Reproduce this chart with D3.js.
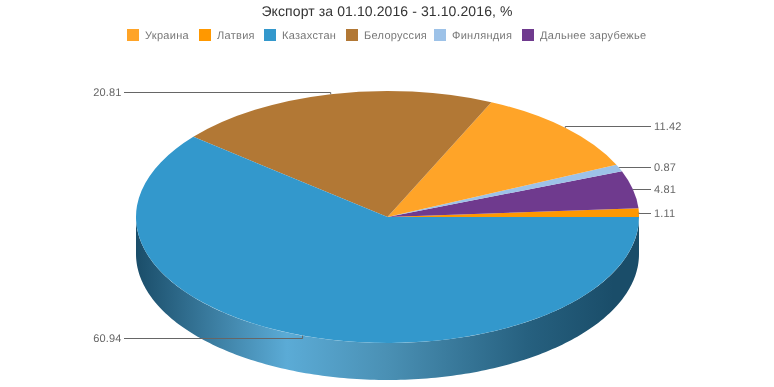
<!DOCTYPE html>
<html>
<head>
<meta charset="utf-8">
<script src="https://cdnjs.cloudflare.com/ajax/libs/d3/7.8.5/d3.min.js"></script>
<style>
	body { margin: 0; background: #fff; }
	/* own layer so text gets greyscale antialiasing */
	svg { display: block; will-change: transform; font-family: "Liberation Sans", Arial, sans-serif; text-rendering: geometricPrecision; }
	.title { font-size: 14px; fill: #333; letter-spacing: 0.1px; }
	.label { font-size: 11px; fill: #666; letter-spacing: 0.15px; }
	.legend-text { font-size: 11px; fill: #777; letter-spacing: 0.3px; }
	.leader { fill: none; stroke: #666; stroke-width: 1; }
</style>
</head>
<body>
<div id="graphic"></div>
<script>
// legend order
const categories = ['Украина', 'Латвия', 'Казахстан', 'Белоруссия', 'Финляндия', 'Дальнее зарубежье'];
const values = [11.42, 1.11, 60.94, 20.81, 0.87, 4.81];
const colours = ['#ffa428', '#ff9800', '#3398cc', '#b27835', '#9dc2e8', '#6f3a8e'];
// order of the slices round the pie, anticlockwise from 3 o'clock
const sliceOrder = ['Латвия', 'Дальнее зарубежье', 'Финляндия', 'Украина', 'Белоруссия', 'Казахстан'];
const legendX = [127, 199, 264, 346, 434, 522];
const wallStops = [[0, '#1a4d69'], [0.3, '#5babd6'], [0.5, '#4a90b4'], [0.78, '#26607f'], [0.95, '#1a4d69'], [1, '#1a4d69']];

const width = 774, height = 387;
const cx = 387.5, cy = 217, rx = 251.5, ry = 126, depth = 37;

const data = sliceOrder.map(name => {
	const i = categories.indexOf(name);
	return { name, value: values[i], colour: colours[i] };
});

const svg = d3.select('#graphic').append('svg')
	.attr('width', width)
	.attr('height', height);

svg.append('text')
	.attr('class', 'title')
	.attr('x', width / 2)
	.attr('y', 16)
	.attr('text-anchor', 'middle')
	.text('Экспорт за 01.10.2016 - 31.10.2016, %');

// Legend
const legendItem = svg.selectAll('g.legend-item')
	.data(categories)
	.join('g')
	.attr('class', 'legend-item')
	.attr('transform', (d, i) => `translate(${legendX[i]}, 29)`);

legendItem.append('rect')
	.attr('width', 12)
	.attr('height', 12)
	.attr('fill', (d, i) => colours[i]);

legendItem.append('text')
	.attr('class', 'legend-text')
	.attr('x', 18)
	.attr('y', 10)
	.text(d => d);

// Side wall shading runs left to right across the pie
const grad = svg.append('defs').append('linearGradient')
	.attr('id', 'wall')
	.attr('gradientUnits', 'userSpaceOnUse')
	.attr('x1', cx - rx).attr('x2', cx + rx)
	.attr('y1', 0).attr('y2', 0);

grad.selectAll('stop')
	.data(wallStops)
	.join('stop')
	.attr('offset', d => d[0])
	.attr('stop-color', d => d[1]);

// Anticlockwise from 3 o'clock; d3 measures angles clockwise from 12
const pie = d3.pie()
	.value(d => d.value)
	.sort(null)
	.startAngle(Math.PI / 2)
	.endAngle(Math.PI / 2 - 2 * Math.PI);

const arcs = pie(data);
const px = a => cx + rx * Math.sin(a);
const py = a => cy - ry * Math.cos(a);

// Wall is only seen along the front half of the ellipse
const wall = d3.area()
	.x(px)
	.y0(py)
	.y1(a => py(a) + depth);

svg.append('path')
	.attr('d', wall(d3.range(0, 181).map(d => Math.PI / 2 + d * Math.PI / 180)))
	.attr('fill', 'url(#wall)');

const arc = d3.arc().innerRadius(0).outerRadius(1);

svg.append('g')
	.attr('transform', `translate(${cx}, ${cy}) scale(${rx}, ${ry})`)
	.selectAll('path')
	.data(arcs)
	.join('path')
	.attr('d', arc)
	.attr('fill', d => d.data.colour);

// Leader lines and value labels
arcs.forEach(d => {
	const mid = (d.startAngle + d.endAngle) / 2;
	const x0 = px(mid), y0 = py(mid);
	const right = x0 > cx;
	// elbow sits a little further out than the rim
	const lineY = Math.round(cy - (ry + 2.8) * Math.cos(mid)) + 0.5;
	const xEnd = right ? 651 : 124;

	svg.append('path')
		.attr('class', 'leader')
		.attr('d', d3.line()([[x0, y0], [x0, lineY], [xEnd, lineY]]));

	svg.append('text')
		.attr('class', 'label')
		.attr('x', right ? 654 : 121.6)
		.attr('y', lineY + 3.5)
		.attr('text-anchor', right ? 'start' : 'end')
		.text(d.data.value.toFixed(2));
});
</script>
</body>
</html>
